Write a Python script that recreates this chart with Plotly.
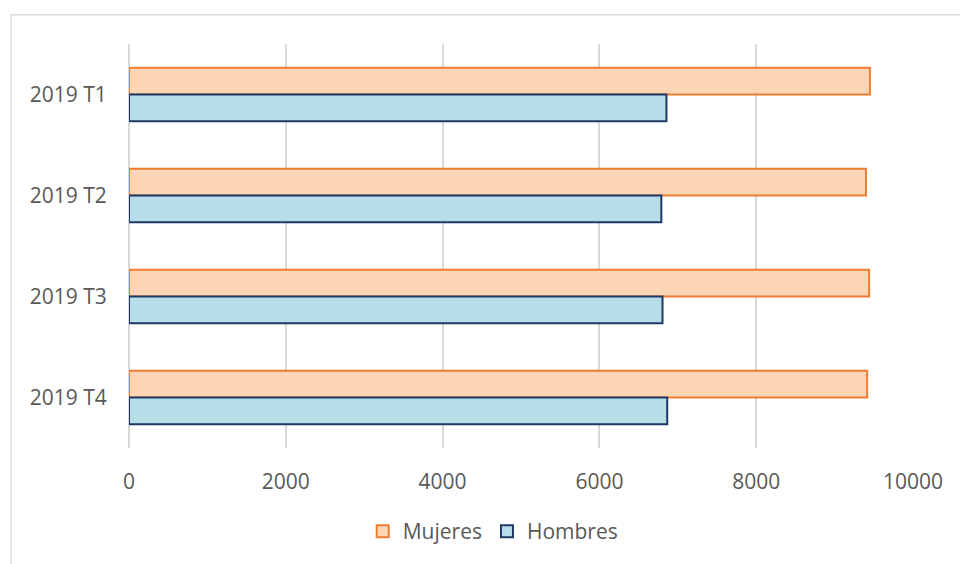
import plotly.graph_objects as go

# Quarterly figures by sex
trimestres = ["2019 T1", "2019 T2", "2019 T3", "2019 T4"]
mujeres = [9450, 9400, 9440, 9415]
hombres = [6855, 6790, 6805, 6865]
x_ticks = [0, 2000, 4000, 6000, 8000, 10000]
x_labels = [str(v) for v in x_ticks]

FONT = "Open Sans, Liberation Sans, sans-serif"
TEXT = "#595959"
GRID = "#D9D9D9"

fig = go.Figure()
fig.add_trace(go.Bar(
    name="Mujeres", y=trimestres, x=mujeres, orientation="h",
    marker=dict(color="#FBD5B5", line=dict(color="#ED7D31", width=2)),
))
fig.add_trace(go.Bar(
    name="Hombres", y=trimestres, x=hombres, orientation="h",
    marker=dict(color="#B7DEE8", line=dict(color="#1F3864", width=2)),
))

W, H = 960, 564
L, R, T, B = 128.6, 47, 44, 114
pw, ph = W - L - R, H - T - B

fig.update_layout(
    width=W, height=H,
    margin=dict(l=L, r=R, t=T, b=B, pad=0),
    paper_bgcolor="white", plot_bgcolor="white",
    barmode="group", bargap=0.468, bargroupgap=0,
    font=dict(family=FONT, size=21, color=TEXT),
    showlegend=True,
    legend=dict(
        orientation="h", x=(493 - L) / pw, xanchor="center",
        y=(H - B - 534) / ph, yanchor="middle",
        font=dict(family=FONT, size=21, color=TEXT),
        itemwidth=30, traceorder="normal",
        bgcolor="rgba(0,0,0,0)",
    ),
    xaxis=dict(
        range=[0, 10000], tickvals=x_ticks, ticktext=x_labels,
        showgrid=True, gridcolor=GRID, gridwidth=1.5,
        zeroline=True, zerolinecolor=GRID, zerolinewidth=1.5,
        showline=False, ticks="outside", ticklen=15,
        tickcolor="rgba(0,0,0,0)",
        tickfont=dict(family=FONT, size=21, color=TEXT),
        fixedrange=True,
    ),
    yaxis=dict(
        autorange="reversed", showgrid=False, zeroline=False,
        showline=False, ticks="outside", ticklen=17,
        tickcolor="rgba(0,0,0,0)",
        tickfont=dict(family=FONT, size=21, color=TEXT),
    ),
    shapes=[dict(
        type="rect", xref="paper", yref="paper",
        x0=(10.5 - L) / pw, x1=(W + 5 - L) / pw,
        y0=(H - B - (H + 5)) / ph, y1=(H - B - 14.5) / ph,
        line=dict(color=GRID, width=1.5), fillcolor="rgba(0,0,0,0)",
        layer="below",
    )],
)

fig.write_html("out.html")
